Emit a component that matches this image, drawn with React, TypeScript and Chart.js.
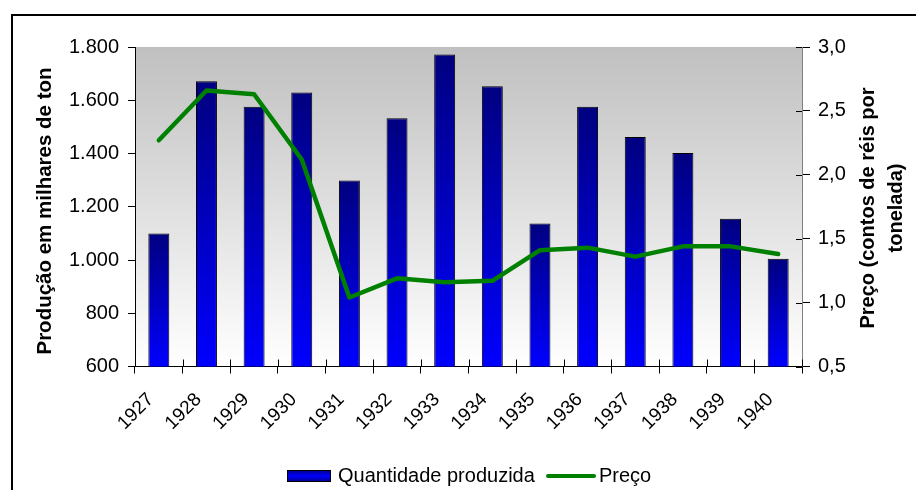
import React, { useEffect, useRef } from 'react';
import { Chart, registerables } from 'chart.js';

Chart.register(...registerables);

const years = ['1927', '1928', '1929', '1930', '1931', '1932', '1933', '1934', '1935', '1936', '1937', '1938', '1939', '1940'];
const production = [1100, 1671, 1576, 1629, 1299, 1532, 1772, 1653, 1137, 1576, 1462, 1402, 1155, 1005];
const price = [2.27, 2.66, 2.63, 2.12, 1.04, 1.19, 1.16, 1.17, 1.41, 1.43, 1.36, 1.44, 1.44, 1.38];
const leftTicks = [600, 800, 1000, 1200, 1400, 1600, 1800];
const leftTickLabels = ['600', '800', '1.000', '1.200', '1.400', '1.600', '1.800'];
const rightTicks = [0.5, 1.0, 1.5, 2.0, 2.5, 3.0];
const rightTickLabels = ['0,5', '1,0', '1,5', '2,0', '2,5', '3,0'];
const leftTitle = 'Produção em milhares de ton';
const rightTitle = ['Preço (contos de réis por', 'tonelada)'];
const legendLabels = ['Quantidade produzida', 'Preço'];

const FONT = '"Liberation Sans", Arial, sans-serif';
const NAVY = '#000080';
const BLUE = '#0000FF';
const GREEN = '#008000';

function labelFor(ticks: number[], labels: string[], v: number) {
  const i = ticks.findIndex((t) => Math.abs(t - v) < 1e-6);
  return i >= 0 ? labels[i] : '';
}

function barGradient(c: any) {
  const chart = c.chart;
  const yScale = chart.scales && chart.scales.y;
  if (!yScale || c.type !== 'data' || typeof c.raw !== 'number') return BLUE;
  const top = yScale.getPixelForValue(c.raw);
  const bottom = yScale.getPixelForValue(yScale.min);
  if (!isFinite(top) || !isFinite(bottom) || Math.abs(bottom - top) < 1) return BLUE;
  const g = chart.ctx.createLinearGradient(0, top, 0, bottom);
  g.addColorStop(0, NAVY);
  g.addColorStop(1, BLUE);
  return g;
}

const decorPlugin = {
  id: 'decor',
  beforeDraw(chart: any) {
    const { ctx, chartArea } = chart;
    ctx.save();
    ctx.fillStyle = '#FFFFFF';
    ctx.fillRect(0, 0, chart.width, chart.height);
    // outer frame
    ctx.strokeStyle = '#000';
    ctx.lineWidth = 2;
    ctx.strokeRect(12, 15, chart.width + 100, chart.height + 100);
    // plot area gradient
    const g = ctx.createLinearGradient(0, chartArea.top, 0, chartArea.bottom);
    g.addColorStop(0, '#C0C0C0');
    g.addColorStop(1, '#FFFFFF');
    ctx.fillStyle = g;
    ctx.fillRect(chartArea.left, chartArea.top, chartArea.right - chartArea.left, chartArea.bottom - chartArea.top);
    ctx.restore();
  },
  afterDraw(chart: any) {
    const { ctx, chartArea, scales } = chart;
    ctx.save();
    ctx.strokeStyle = '#000';
    ctx.lineWidth = 1;
    // inner halves of crossing ticks on x axis
    const xs = scales.x;
    ctx.beginPath();
    for (let i = 0; i <= years.length; i++) {
      const x = Math.round(xs.getPixelForValue(i - 0.5)) + 0.5;
      ctx.moveTo(x, chartArea.bottom - 7);
      ctx.lineTo(x, chartArea.bottom);
    }
    // inner halves on right axis
    const ys = scales.y1;
    rightTicks.forEach((v) => {
      const y = Math.round(ys.getPixelForValue(v)) + 0.5;
      ctx.moveTo(chartArea.right - 6, y);
      ctx.lineTo(chartArea.right, y);
    });
    ctx.stroke();

    ctx.fillStyle = '#000';
    ctx.textAlign = 'center';
    ctx.textBaseline = 'middle';
    // left title
    ctx.save();
    ctx.font = `bold 20.5px ${FONT}`;
    ctx.translate(45, 211);
    ctx.rotate(-Math.PI / 2);
    ctx.fillText(leftTitle, 0, 0);
    ctx.restore();
    // right title
    ctx.save();
    ctx.font = `bold 20px ${FONT}`;
    ctx.translate(882, 208);
    ctx.rotate(-Math.PI / 2);
    ctx.fillText(rightTitle[0], 0, -14);
    ctx.fillText(rightTitle[1], 0, 14);
    ctx.restore();

    // legend
    const bx = 287, by = 470, bw = 44, bh = 12;
    const lg = ctx.createLinearGradient(0, by, 0, by + bh);
    lg.addColorStop(0, NAVY);
    lg.addColorStop(0.5, BLUE);
    lg.addColorStop(1, NAVY);
    ctx.fillStyle = lg;
    ctx.fillRect(bx, by, bw, bh);
    ctx.strokeStyle = '#000';
    ctx.lineWidth = 1;
    ctx.strokeRect(bx + 0.5, by + 0.5, bw - 1, bh - 1);
    ctx.fillStyle = '#000';
    ctx.font = `20px ${FONT}`;
    ctx.textAlign = 'left';
    ctx.textBaseline = 'alphabetic';
    ctx.fillText(legendLabels[0], 338, 482);
    ctx.strokeStyle = GREEN;
    ctx.lineWidth = 4;
    ctx.lineCap = 'round';
    ctx.beginPath();
    ctx.moveTo(548, 476);
    ctx.lineTo(594, 476);
    ctx.stroke();
    ctx.fillText(legendLabels[1], 599, 482);
    ctx.restore();
  },
};

export default function App() {
  const ref = useRef<HTMLCanvasElement | null>(null);
  useEffect(() => {
    if (!ref.current) return;
    const tickFont = { family: FONT, size: 20 };
    const chart = new Chart(ref.current, {
      type: 'bar',
      data: {
        labels: years,
        datasets: [
          {
            type: 'line',
            label: legendLabels[1],
            data: price,
            yAxisID: 'y1',
            borderColor: GREEN,
            backgroundColor: GREEN,
            borderWidth: 4.5,
            pointRadius: 0,
            borderCapStyle: 'round',
            borderJoinStyle: 'round',
            tension: 0,
            order: 0,
          } as any,
          {
            type: 'bar',
            label: legendLabels[0],
            data: production,
            yAxisID: 'y',
            backgroundColor: barGradient as any,
            borderColor: '#000',
            borderWidth: 1,
            borderSkipped: false,
            barPercentage: 0.44,
            categoryPercentage: 1,
            order: 1,
          } as any,
        ],
      },
      options: {
        animation: false,
        responsive: true,
        maintainAspectRatio: false,
        layout: { padding: { top: 47, left: 0, right: 0, bottom: 0 } },
        plugins: {
          legend: { display: false },
          tooltip: { enabled: false },
          title: { display: false },
        },
        scales: {
          x: {
            type: 'category',
            offset: true,
            grid: { offset: true, drawOnChartArea: false, color: '#000', tickLength: 7, lineWidth: 1 },
            border: { color: '#000', width: 1 },
            ticks: {
              autoSkip: false,
              maxRotation: 45,
              minRotation: 45,
              padding: 15,
              labelOffset: -8,
              color: '#000',
              font: { family: FONT, size: 19 },
            },
            afterFit: (s: any) => {
              s.height = 123.5;
            },
          },
          y: {
            position: 'left',
            min: 600,
            max: 1800,
            grid: { drawOnChartArea: false, color: '#000', tickLength: 7, lineWidth: 1 },
            border: { color: '#000', width: 1 },
            ticks: {
              stepSize: 200,
              padding: 9,
              color: '#000',
              font: tickFont,
              callback: (v: any) => labelFor(leftTicks, leftTickLabels, Number(v)),
            },
            afterFit: (s: any) => {
              s.width = 135;
            },
          },
          y1: {
            position: 'right',
            min: 0.5,
            max: 3.0,
            grid: { drawOnChartArea: false, color: '#000', tickLength: 8, lineWidth: 1 },
            border: { color: '#808080', width: 1 },
            ticks: {
              stepSize: 0.5,
              padding: 8,
              color: '#000',
              font: tickFont,
              callback: (v: any) => labelFor(rightTicks, rightTickLabels, Number(v)),
            },
            afterFit: (s: any) => {
              s.width = 114;
            },
          },
        },
      } as any,
      plugins: [decorPlugin],
    });
    return () => chart.destroy();
  }, []);
  return (
    <div style={{ position: 'fixed', left: 0, top: 0, width: 916, height: 490, background: '#fff' }}>
      <canvas ref={ref} />
    </div>
  );
}
